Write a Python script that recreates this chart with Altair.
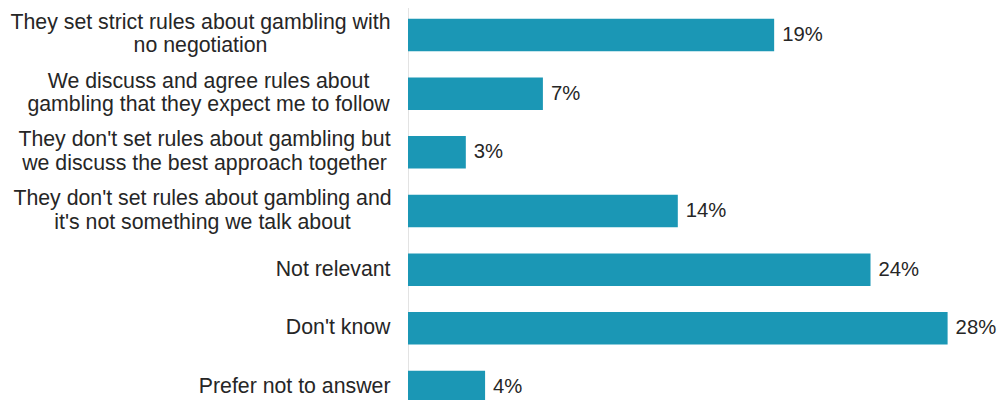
import altair as alt
import pandas as pd

categories = [
    "They set strict rules about gambling with|no negotiation",
    "We discuss and agree rules about|gambling that they expect me to follow",
    "They don't set rules about gambling but|we discuss the best approach together",
    "They don't set rules about gambling and|it's not something we talk about",
    "Not relevant",
    "Don't know",
    "Prefer not to answer",
]
values = [19, 7, 3, 14, 24, 28, 4]
value_labels = [f"{v}%" for v in values]

df = pd.DataFrame({"category": categories, "value": values, "label": value_labels})

FONT = "Liberation Sans"
TEXT_COLOR = "#262626"
BAR_COLOR = "#1b97b5"

MULTI = "indexof(datum.value, '|') >= 0"

y_axis = alt.Axis(
    title=None,
    ticks=False,
    tickSize=0,
    grid=False,
    domain=True,
    domainColor="#e3e3e3",
    domainWidth=1,
    labelFont=FONT,
    labelFontSize=21.3,
    labelColor=TEXT_COLOR,
    labelLineHeight=23.5,
    labelLimit=0,
    labelExpr="split(datum.label, '|')",
    labelAlign={
        "condition": {"test": MULTI, "value": "center"},
        "value": "right",
    },
    labelOffset={
        "condition": {"test": MULTI, "value": -12},
        "value": 0,
    },
    labelPadding={
        "condition": [
            {"test": "indexof(datum.value, 'They set') == 0", "value": 208},
            {"test": "indexof(datum.value, 'We discuss') == 0", "value": 200},
            {"test": "indexof(datum.value, 'but|') >= 0", "value": 204},
            {"test": "indexof(datum.value, 'and|') >= 0", "value": 206},
        ],
        "value": 18,
    },
)

base = alt.Chart(df).encode(
    y=alt.Y(
        "category:N",
        sort=categories,
        scale=alt.Scale(paddingInner=0.446, paddingOuter=0.234),
        axis=y_axis,
    ),
    x=alt.X("value:Q", scale=alt.Scale(domain=[0, 30.2], nice=False), axis=None),
)

bars = base.mark_bar(color=BAR_COLOR)
text = base.mark_text(
    align="left", baseline="middle", dx=8, font=FONT, fontSize=20.3, color=TEXT_COLOR
).encode(text="label:N")

chart = (
    alt.layer(bars, text)
    .properties(
        width=582,
        height=412,
        padding={"left": 400, "top": -3, "right": 8, "bottom": 0},
        autosize=alt.AutoSizeParams(type="none"),
    )
    .configure_view(stroke=None)
)

chart.save("out.html", embed_options={"renderer": "svg", "actions": False})
